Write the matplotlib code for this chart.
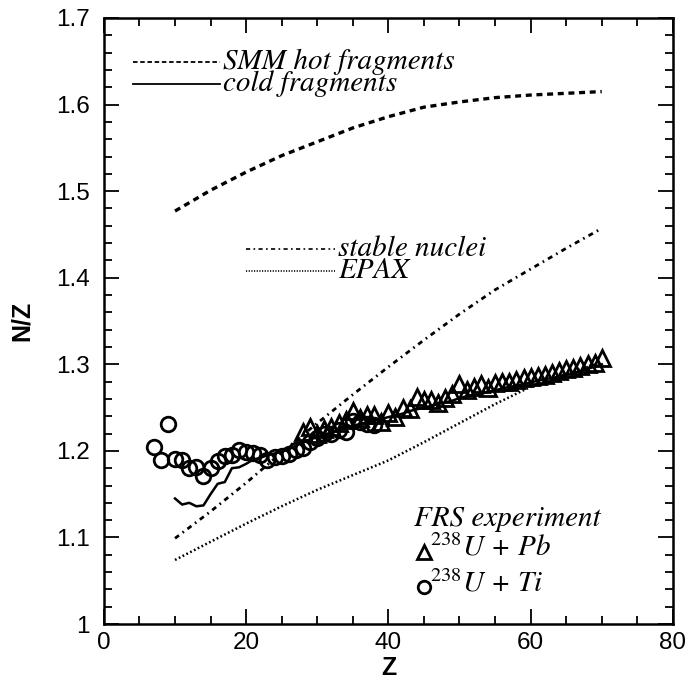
import matplotlib.pyplot as plt
import matplotlib.ticker as ticker

plt.rcParams['mathtext.fontset'] = 'stix'

# SMM hot fragments
z_smm = [10, 15, 20, 25, 30, 35, 40, 45, 50, 55, 60, 65, 70]
nz_smm = [1.477, 1.501, 1.522, 1.541, 1.557, 1.573, 1.586, 1.597, 1.603, 1.608, 1.611, 1.613, 1.615]

# cold fragments
z_cold = list(range(10, 71))
nz_cold = [1.145, 1.138, 1.140, 1.136, 1.137, 1.150, 1.162, 1.164, 1.180, 1.181,
           1.185, 1.190, 1.192, 1.195, 1.197, 1.199, 1.202, 1.206, 1.210, 1.213,
           1.216, 1.219, 1.221, 1.224, 1.226, 1.229, 1.231, 1.233, 1.235, 1.237,
           1.239, 1.241, 1.243, 1.246, 1.248, 1.250, 1.252, 1.254, 1.256, 1.258,
           1.261, 1.263, 1.264, 1.266, 1.268, 1.270, 1.272, 1.274, 1.275, 1.277,
           1.279, 1.281, 1.283, 1.284, 1.286, 1.288, 1.290, 1.292, 1.295, 1.297,
           1.300]

# stable nuclei
z_stable = [10, 15, 20, 25, 30, 35, 40, 45, 50, 55, 60, 65, 70]
nz_stable = [1.099, 1.130, 1.163, 1.198, 1.232, 1.265, 1.297, 1.328, 1.358, 1.386, 1.410, 1.434, 1.457]

# EPAX
z_epax = [10, 15, 20, 25, 30, 35, 40, 45, 50, 55, 60, 65, 70]
nz_epax = [1.074, 1.095, 1.116, 1.136, 1.155, 1.172, 1.189, 1.210, 1.232, 1.254, 1.274, 1.289, 1.302]

# FRS 238U + Pb
z_pb = list(range(28, 71))
nz_pb = [1.222, 1.227, 1.220, 1.225, 1.228, 1.232, 1.236, 1.246, 1.238, 1.242,
         1.241, 1.233, 1.244, 1.239, 1.250, 1.248, 1.262, 1.259, 1.259, 1.255,
         1.261, 1.266, 1.277, 1.270, 1.274, 1.277, 1.273, 1.278, 1.280, 1.280,
         1.282, 1.284, 1.285, 1.286, 1.288, 1.290, 1.292, 1.294, 1.296, 1.298,
         1.300, 1.302, 1.307]

# FRS 238U + Ti
z_ti = list(range(7, 39))
nz_ti = [1.205, 1.189, 1.231, 1.191, 1.190, 1.180, 1.181, 1.171, 1.180, 1.188,
         1.194, 1.195, 1.201, 1.199, 1.197, 1.195, 1.190, 1.193, 1.194, 1.196,
         1.201, 1.203, 1.210, 1.215, 1.219, 1.219, 1.224, 1.222, 1.234, 1.233,
         1.231, 1.230]

fig = plt.figure(figsize=(6.88, 6.89), dpi=100)
ax = fig.add_axes([0.151, 0.0943, 0.827, 0.8796])

ax.plot(z_smm, nz_smm, color='black', lw=2.4, dashes=(1.8, 1.4))
ax.plot(z_cold, nz_cold, color='black', lw=1.8)
ax.plot(z_stable, nz_stable, color='black', lw=2.0, dashes=(1.8, 1.6, 0.6, 1.6))
ax.plot(z_epax, nz_epax, color='black', lw=1.8, dashes=(0.7, 1.0))
ax.plot(z_pb, nz_pb, ls='none', marker='^', ms=12, mfc='none', mec='black', mew=2)
ax.plot(z_ti, nz_ti, ls='none', marker='o', ms=10.5, mfc='none', mec='black', mew=2)

# legend-like annotations
serif = dict(family='STIXGeneral', style='italic', fontsize=21, color='black')
ax.plot([4.1, 16.3], [1.649, 1.649], color='black', lw=1.3, dashes=(2.5, 1.5))
ax.text(16.7, 1.649, 'SMM hot fragments', va='center', ha='left', **serif)
ax.plot([4.1, 16.3], [1.624, 1.624], color='black', lw=1.3)
ax.text(16.7, 1.624, 'cold fragments', va='center', ha='left', **serif)
ax.plot([20.0, 32.5], [1.433, 1.433], color='black', lw=1.2, dashes=(2.5, 2.0, 1.0, 2.0))
ax.text(32.9, 1.433, 'stable nuclei', va='center', ha='left', **serif)
ax.plot([20.0, 32.5], [1.408, 1.408], color='black', lw=1.2, dashes=(0.7, 0.9))
ax.text(32.9, 1.408, 'EPAX', va='center', ha='left', **serif)

ax.text(43.6, 1.122, 'FRS experiment', va='center', ha='left', **serif)
ax.plot([45.0], [1.083], marker='^', ms=10, mfc='none', mec='black', mew=2)
ax.text(45.9, 1.088, r'$^{\mathit{238}}$U + Pb', va='center', ha='left', **serif)
ax.plot([45.0], [1.043], marker='o', ms=9, mfc='none', mec='black', mew=2)
ax.text(45.9, 1.047, r'$^{\mathit{238}}$U + Ti', va='center', ha='left', **serif)

ax.set_xlim(0, 80)
ax.set_ylim(1.0, 1.7)
ax.xaxis.set_major_locator(ticker.MultipleLocator(20))
ax.xaxis.set_minor_locator(ticker.MultipleLocator(5))
ax.yaxis.set_major_locator(ticker.MultipleLocator(0.1))
ax.yaxis.set_minor_locator(ticker.MultipleLocator(0.02))
ax.yaxis.set_major_formatter(ticker.FuncFormatter(lambda v, p: '1' if abs(v - 1) < 1e-9 else f'{v:.1f}'))

ax.tick_params(which='both', direction='in', top=True, right=True, width=1.3)
ax.tick_params(which='major', length=11, labelsize=17.5, pad=10)
ax.tick_params(axis='x', which='major', pad=6)
ax.tick_params(which='minor', length=6)
for lab in ax.get_xticklabels() + ax.get_yticklabels():
    lab.set_family('Liberation Sans')
for s in ax.spines.values():
    s.set_linewidth(1.8)

ax.set_xlabel('Z', fontsize=18, fontweight='bold', family='Liberation Sans', labelpad=1)
ax.set_ylabel('N/Z', fontsize=18, fontweight='bold', family='Liberation Sans', labelpad=16)

fig.savefig('out.png', dpi=100)
